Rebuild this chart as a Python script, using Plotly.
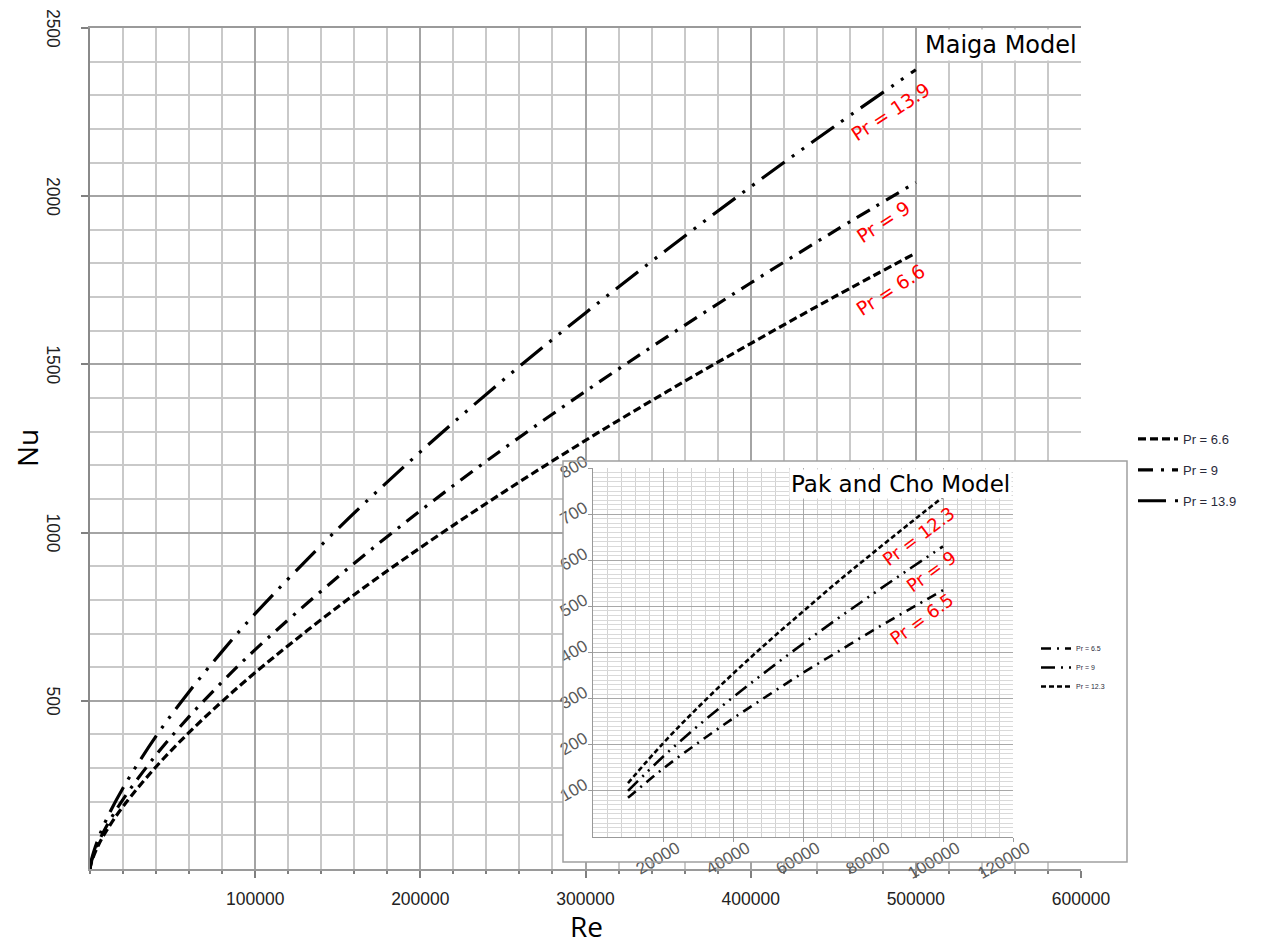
import plotly.graph_objects as go

# ---------------- data ----------------
re_maiga = [0, 1000, 5000, 10000, 20000, 40000, 60000, 80000, 100000, 150000,
            200000, 250000, 300000, 350000, 400000, 450000, 500000]
nu_maiga_pr66 = [0, 22, 70, 114, 186, 304, 406, 498, 584, 779, 955, 1119, 1274, 1421, 1562, 1699, 1831]
nu_maiga_pr9 = [0, 25, 78, 127, 207, 339, 453, 556, 652, 868, 1065, 1248, 1420, 1584, 1742, 1894, 2041]
nu_maiga_pr139 = [0, 29, 90, 148, 241, 395, 527, 647, 759, 1011, 1240, 1453, 1653, 1844, 2028, 2205, 2376]

re_pak = [10000, 20000, 30000, 40000, 50000, 60000, 70000, 80000, 90000, 100000]
nu_pak_pr65 = [85, 148, 204, 257, 307, 356, 402, 448, 492, 535]
nu_pak_pr9 = [100, 174, 241, 303, 362, 419, 474, 527, 579, 630]
nu_pak_pr123 = [117, 203, 281, 354, 423, 489, 554, 616, 677, 737]

main_x_ticks = [100000, 200000, 300000, 400000, 500000, 600000]
main_y_ticks = [500, 1000, 1500, 2000, 2500]
inset_x_ticks = [20000, 40000, 60000, 80000, 100000, 120000]
inset_y_ticks = [100, 200, 300, 400, 500, 600, 700, 800]

# ---------------- geometry helpers (screen pixel -> paper) ----------------
W, H = 1265, 945
OFF = 8  # page body margin
ML, MR, MT, MB = 82, 192, 20, 84
PW = W - ML - MR
PH = H - MT - MB


def X(px):
    return (px - OFF - ML) / PW


def Y(py):
    return (H - MB - (py - OFF)) / PH


fig = go.Figure()

# main traces
fig.add_trace(go.Scatter(x=re_maiga, y=nu_maiga_pr66, mode="lines", name="Pr = 6.6",
                         line=dict(color="black", width=3.2, dash="8px,4px", shape="spline"),
                         legendgroup="a", legend="legend"))
fig.add_trace(go.Scatter(x=re_maiga, y=nu_maiga_pr9, mode="lines", name="Pr = 9",
                         line=dict(color="black", width=3.2, dash="15px,8px,3px,8px", shape="spline"),
                         legendgroup="b", legend="legend"))
fig.add_trace(go.Scatter(x=re_maiga, y=nu_maiga_pr139, mode="lines", name="Pr = 13.9",
                         line=dict(color="black", width=3.2, dash="28px,9px,3px,9px,3px,9px", shape="spline"),
                         legendgroup="c", legend="legend"))

# inset traces
fig.add_trace(go.Scatter(x=re_pak, y=nu_pak_pr65, mode="lines", name="Pr = 6.5",
                         xaxis="x2", yaxis="y2",
                         line=dict(color="black", width=2.6, dash="10px,6px,2px,6px", shape="spline"),
                         legend="legend2"))
fig.add_trace(go.Scatter(x=re_pak, y=nu_pak_pr9, mode="lines", name="Pr = 9",
                         xaxis="x2", yaxis="y2",
                         line=dict(color="black", width=2.6, dash="14px,6px,2px,6px,2px,6px", shape="spline"),
                         legend="legend2"))
fig.add_trace(go.Scatter(x=re_pak, y=nu_pak_pr123, mode="lines", name="Pr = 12.3",
                         xaxis="x2", yaxis="y2",
                         line=dict(color="black", width=2.6, dash="5px,3px", shape="spline"),
                         legend="legend2"))

tickfont_main = dict(family="Liberation Sans, Arial, sans-serif", size=17.5, color="#222222")
tickfont_inset = dict(family="Liberation Sans, Arial, sans-serif", size=17, color="#5a5a5a")

fig.update_layout(
    width=W, height=H,
    margin=dict(l=ML, r=MR, t=MT, b=MB, autoexpand=False),
    paper_bgcolor="white", plot_bgcolor="white",
    xaxis=dict(
        domain=[0, 1], range=[0, 600000], tickvals=main_x_ticks,
        ticktext=[str(v) for v in main_x_ticks], tickfont=tickfont_main,
        showgrid=True, gridcolor="#a4a4a4", gridwidth=1.5,
        ticks="outside", ticklen=7, tickcolor="#808080", tickwidth=1.5,
        showline=True, linecolor="#9a9a9a", linewidth=1.5, mirror=True,
        zeroline=False, ticklabelstandoff=6,
        minor=dict(dtick=20000, tick0=0, showgrid=True, gridcolor="#c9c9c9", gridwidth=2,
                   ticks="outside", ticklen=3, tickcolor="#808080"),
    ),
    yaxis=dict(
        domain=[0, 1], range=[0, 2500], tickvals=main_y_ticks,
        ticktext=[str(v) for v in main_y_ticks], tickfont=tickfont_main, tickangle=90,
        ticklabeloverflow="allow", ticklabelshift=3,
        showgrid=True, gridcolor="#a4a4a4", gridwidth=1.5,
        ticks="outside", ticklen=7, tickcolor="#808080", tickwidth=1.5,
        showline=True, linecolor="#8a8a8a", linewidth=1.5,
        zeroline=False, ticklabelstandoff=13,
        minor=dict(dtick=100, tick0=0, showgrid=True, gridcolor="#c9c9c9", gridwidth=2),
    ),
    xaxis2=dict(
        domain=[X(593), X(1013)], anchor="y2", range=[0, 120000], tickvals=inset_x_ticks,
        ticktext=[str(v) for v in inset_x_ticks], tickfont=tickfont_inset, tickangle=-30,
        ticklabelstandoff=-10, ticklabelshift=14, ticklabeloverflow="allow",
        showgrid=True, gridcolor="#a8a8a8", gridwidth=1,
        ticks="outside", ticklen=4, tickcolor="#999999",
        showline=True, linecolor="#999999", linewidth=1, zeroline=False,
        minor=dict(dtick=4000, tick0=0, showgrid=True, gridcolor="#d2d2d2", gridwidth=1),
    ),
    yaxis2=dict(
        domain=[Y(837), Y(468)], anchor="x2", range=[0, 800], tickvals=inset_y_ticks,
        ticktext=[str(v) for v in inset_y_ticks], tickfont=tickfont_inset, tickangle=-30,
        ticklabelshift=-8, ticklabeloverflow="allow",
        showgrid=True, gridcolor="#a8a8a8", gridwidth=1,
        ticks="outside", ticklen=4, tickcolor="#999999",
        showline=True, linecolor="#999999", linewidth=1, zeroline=False,
        minor=dict(dtick=10, tick0=0, showgrid=True, gridcolor="#d9d9d9", gridwidth=1),
    ),
    showlegend=True,
    legend=dict(x=X(1133), y=Y(424), xanchor="left", yanchor="top",
                font=dict(family="Liberation Sans, Arial, sans-serif", size=13, color="#2a2a3a"),
                tracegroupgap=11, bgcolor="rgba(0,0,0,0)", itemwidth=40),
    legend2=dict(x=X(1036), y=Y(634), xanchor="left", yanchor="top",
                 font=dict(family="Liberation Sans, Arial, sans-serif", size=7, color="#2a2a3a"),
                 bgcolor="rgba(0,0,0,0)", itemwidth=30),
    shapes=[
        dict(type="rect", xref="x", yref="y", x0=286370, x1=650000, y0=20.8, y1=1213,
             fillcolor="white", line=dict(width=0), layer="between"),
        dict(type="rect", xref="paper", yref="paper", x0=X(563), x1=X(1127), y0=Y(862), y1=Y(461),
             fillcolor="rgba(0,0,0,0)", line=dict(color="#a0a0a0", width=1.5), layer="above"),
    ],
)

red = dict(family="DejaVu Sans, sans-serif", size=19, color="#ff0000")
red_in = dict(family="DejaVu Sans, sans-serif", size=18, color="#ff0000")
annotations = [
    dict(text="Maiga Model", x=X(1079), y=Y(29), xanchor="right", yanchor="top",
         font=dict(family="DejaVu Sans, sans-serif", size=24, color="black"),
         bgcolor="white", borderpad=1),
    dict(text="Pak and Cho Model", x=X(1012), y=Y(469), xanchor="right", yanchor="top",
         font=dict(family="DejaVu Sans, sans-serif", size=23, color="black"),
         bgcolor="white", borderpad=1),
    dict(text="Pr = 13.9", x=X(890), y=Y(112), textangle=-33, font=red),
    dict(text="Pr = 9", x=X(883), y=Y(222), textangle=-33, font=red),
    dict(text="Pr = 6.6", x=X(890), y=Y(290), textangle=-33, font=red),
    dict(text="Pr = 12.3", x=X(918), y=Y(536), textangle=-37, font=red_in),
    dict(text="Pr = 9", x=X(931), y=Y(571), textangle=-36, font=red_in),
    dict(text="Pr = 6.5", x=X(921), y=Y(619), textangle=-36, font=red_in),
    dict(text="Re", x=X(586), y=Y(926), font=dict(family="Open Sans, sans-serif", size=28, color="black")),
    dict(text="Nu", x=X(27), y=Y(448), textangle=-90,
         font=dict(family="Open Sans, sans-serif", size=28, color="black")),
]
for a in annotations:
    a.setdefault("xref", "paper")
    a.setdefault("yref", "paper")
    a.setdefault("xanchor", "center")
    a.setdefault("yanchor", "middle")
    a.setdefault("showarrow", False)
fig.update_layout(annotations=annotations)

fig.write_html("out.html")
